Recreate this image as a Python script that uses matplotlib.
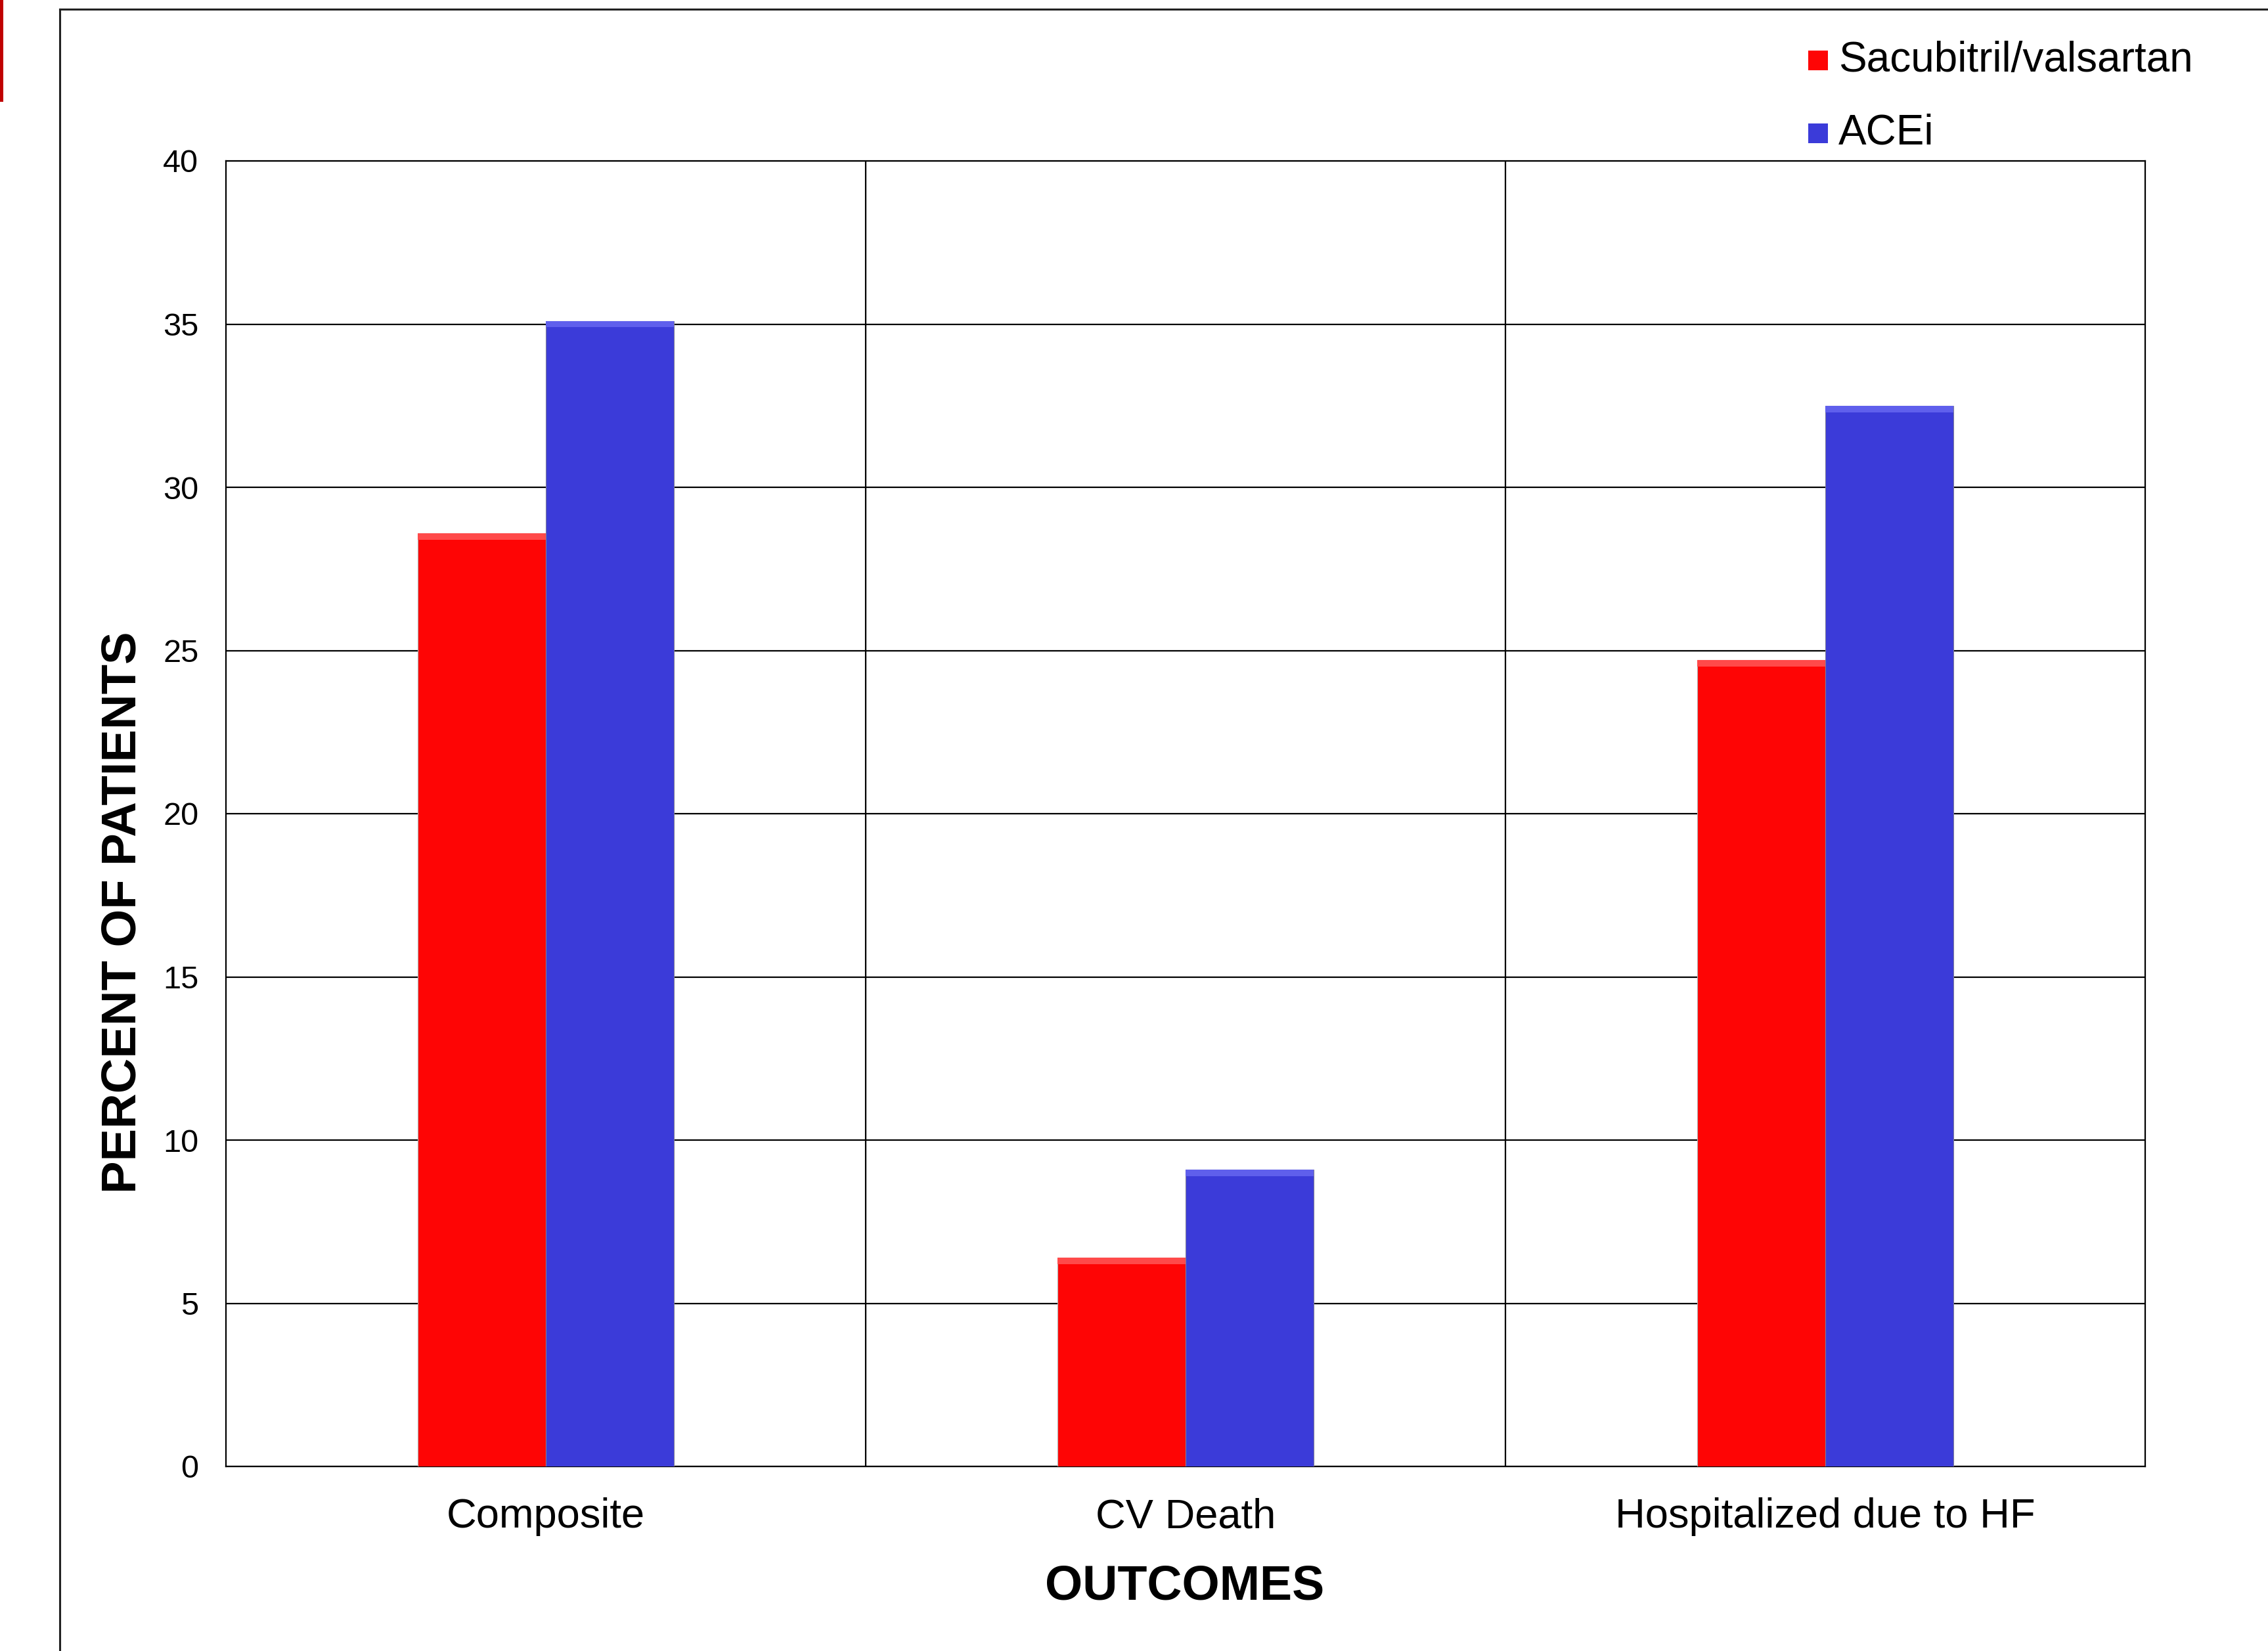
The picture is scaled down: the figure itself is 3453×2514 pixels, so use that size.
import numpy as np
import matplotlib

matplotlib.use("Agg")
import matplotlib.pyplot as plt
from matplotlib.patches import Rectangle
from matplotlib.lines import Line2D

plt.rcParams["font.family"] = ["Liberation Sans", "DejaVu Sans"]

# ---- data ----
outcomes = ["Composite", "CV Death", "Hospitalized due to HF"]
sacubitril = [28.6, 6.4, 24.7]
acei = [35.1, 9.1, 32.5]
series_names = ["Sacubitril/valsartan", "ACEi"]
yticks = [0, 5, 10, 15, 20, 25, 30, 35, 40]

RED = "#fe0505"
BLUE = "#3b3bd9"

W, H = 3453, 2514
fig = plt.figure(figsize=(W / 100, H / 100), dpi=100)

# slide decorations: thin frame and red strip in the corner
fig.add_artist(Line2D([91 / W, 1], [1 - 14 / H, 1 - 14 / H], color="#222222", lw=2.2))
fig.add_artist(Line2D([91 / W, 91 / W], [0, 1 - 14 / H], color="#222222", lw=2.2))
fig.add_artist(Rectangle((0, 1 - 155 / H), 5 / W, 155 / H, color="#c00000", lw=0))

ax = fig.add_axes([344 / W, 1 - 2233 / H, (3266 - 344) / W, (2233 - 245) / H])

x = np.arange(len(outcomes))
bw = 0.2
b1 = ax.bar(x - bw / 2, sacubitril, bw, color=RED, edgecolor="#b0b0b0", lw=0.8, zorder=3,
            label=series_names[0])
b2 = ax.bar(x + bw / 2, acei, bw, color=BLUE, edgecolor="#7a7a9a", lw=0.8, zorder=3,
            label=series_names[1])

# light bevel strip along the top of each bar
for bars, c in ((b1, "#ff4a4a"), (b2, "#5f5fec")):
    for r in bars:
        ax.add_patch(Rectangle((r.get_x(), r.get_height() - 0.2), r.get_width(), 0.2,
                               color=c, lw=0, zorder=4))

ax.set_xlim(-0.5, len(outcomes) - 0.5)
ax.set_ylim(0, 40)
ax.set_yticks(yticks)
ax.set_xticks(x)
ax.set_xticklabels(outcomes, fontsize=45.5)
ax.tick_params(axis="y", labelsize=35, length=0, pad=30)
ax.tick_params(axis="x", length=0, pad=34)

ax.yaxis.grid(True, color="black", lw=1.6, zorder=1)
for xv in x[:-1] + 0.5:
    ax.axvline(xv, color="black", lw=1.6, zorder=1)
for s in ax.spines.values():
    s.set_color("black")
    s.set_linewidth(1.6)

fig.text(187 / W, 1 - 1389 / H, "PERCENT OF PATIENTS", rotation=90, fontsize=53.5,
         fontweight="bold", ha="center", va="center")
fig.text(1804 / W, 1 - 2416 / H, "OUTCOMES", fontsize=53, fontweight="bold",
         ha="center", va="center")

# legend placed by hand above the plot area
for i, (name, col) in enumerate(zip(series_names, [RED, BLUE])):
    yc = 92 + i * 111
    fig.add_artist(Rectangle((2753 / W, 1 - (yc + 15) / H), 30 / W, 30 / H, color=col, lw=0))
    fig.text(2799 / W, 1 - yc / H, name, fontsize=46, ha="left", va="center")

fig.savefig("out.png", dpi=100)
